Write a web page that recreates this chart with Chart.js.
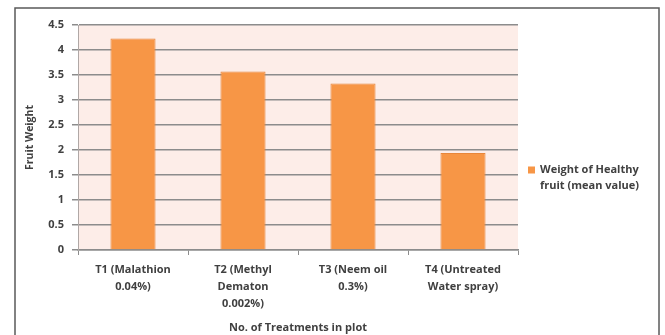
<!DOCTYPE html>
<html>
<head>
<meta charset="utf-8">
<script src="https://cdn.jsdelivr.net/npm/chart.js@4/dist/chart.umd.min.js"></script>
<style>
  html, body { margin: 0; padding: 0; background: #ffffff; }
  #wrap { width: 665px; height: 335px; position: relative; }
</style>
</head>
<body>
<div id="wrap"><canvas id="c" width="665" height="335"></canvas></div>
<script>
// Treatments applied in the plot (multi-line tick labels)
const treatments = [
  ['T1 (Malathion', '0.04%)'],
  ['T2 (Methyl', 'Dematon', '0.002%)'],
  ['T3 (Neem oil', '0.3%)'],
  ['T4 (Untreated', 'Water spray)']
];
// Mean weight of healthy fruit per treatment
const healthyFruitWeight = [4.23, 3.57, 3.33, 1.94];
// Legend text, broken over two lines
const legendLines = ['Weight of Healthy', 'fruit (mean value)'];
const yAxisTitle = 'Fruit Weight';
const xAxisTitle = 'No. of Treatments in plot';

const FONT = '"Open Sans", "Liberation Sans", sans-serif';
const TEXT = '#404040';
const BAR = '#F79646';

// Outer frame, plot-area fill and the right-hand legend
const decor = {
  id: 'decor',
  beforeDraw(chart) {
    const ctx = chart.ctx;
    const a = chart.chartArea;
    ctx.save();
    ctx.fillStyle = '#ffffff';
    ctx.fillRect(0, 0, chart.width, chart.height);
    ctx.strokeStyle = '#5a5a5a';
    ctx.lineWidth = 1.5;
    ctx.strokeRect(15, 8, 644, 345);
    ctx.fillStyle = '#FDEDE8';
    ctx.fillRect(a.left, a.top, a.right - a.left, a.bottom - a.top);
    ctx.restore();
  },
  afterDraw(chart) {
    const ctx = chart.ctx;
    const a = chart.chartArea;
    const ds = chart.data.datasets[0];
    const x0 = a.right + 10;
    const y0 = 170;
    ctx.save();
    ctx.fillStyle = ds.backgroundColor;
    ctx.fillRect(x0, y0 - 3.5, 7, 7);
    ctx.fillStyle = TEXT;
    ctx.font = 'bold 11px ' + FONT;
    ctx.textBaseline = 'middle';
    ctx.textAlign = 'left';
    legendLines.forEach((line, i) => {
      ctx.fillText(line, x0 + 12, y0 + i * 16);
    });
    ctx.restore();
  }
};

new Chart(document.getElementById('c'), {
  type: 'bar',
  data: {
    labels: treatments,
    datasets: [{
      label: legendLines.join(' '),
      data: healthyFruitWeight,
      backgroundColor: BAR,
      borderColor: '#E8863A',
      borderWidth: 1,
      barPercentage: 0.41,
      categoryPercentage: 1.0
    }]
  },
  options: {
    responsive: false,
    animation: false,
    layout: { padding: { left: 0, top: 25, right: 147, bottom: 0 } },
    plugins: {
      legend: { display: false },
      tooltip: { enabled: false }
    },
    scales: {
      x: {
        afterFit(scale) { scale.height = 85; },
        grid: {
          display: true,
          offset: true,
          drawOnChartArea: false,
          drawTicks: true,
          tickLength: 5,
          color: '#8c8c8c'
        },
        border: { display: true, color: '#8c8c8c', width: 1.5 },
        ticks: {
          color: TEXT,
          font: { family: FONT, size: 11, weight: 'bold', lineHeight: 1.55 },
          padding: 6,
          maxRotation: 0,
          autoSkip: false
        },
        title: {
          display: true,
          text: xAxisTitle,
          color: TEXT,
          font: { family: FONT, size: 11, weight: 'bold', lineHeight: 1.2 },
          padding: { top: 0, bottom: 1 }
        }
      },
      y: {
        min: 0,
        max: 4.5,
        afterFit(scale) { scale.width = 78; },
        ticks: {
          stepSize: 0.5,
          color: TEXT,
          font: { family: FONT, size: 11, weight: 'bold' },
          padding: 8,
          callback: (v) => String(v)
        },
        grid: {
          color: '#8c8c8c',
          lineWidth: 1.5,
          tickLength: 6
        },
        border: { display: true, color: '#b0a8a6', width: 1 },
        title: {
          display: true,
          text: yAxisTitle,
          color: TEXT,
          font: { family: FONT, size: 10.5, weight: 'bold', lineHeight: 1.2 },
          padding: { top: 24, bottom: 0 }
        }
      }
    }
  },
  plugins: [decor]
});
</script>
</body>
</html>
